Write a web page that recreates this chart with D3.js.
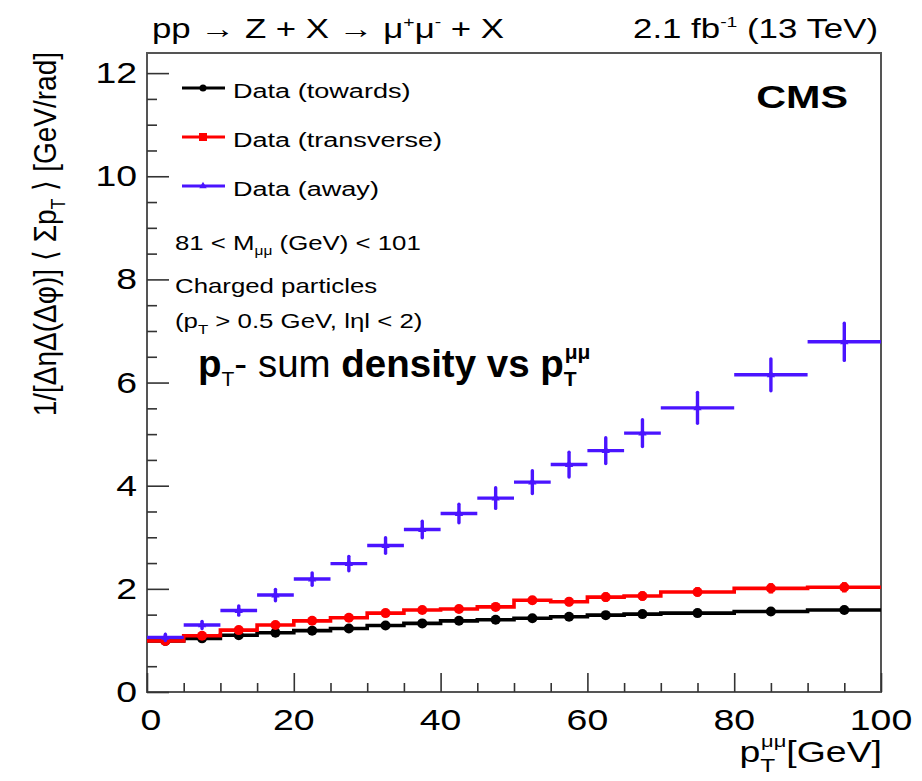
<!DOCTYPE html>
<html>
<head>
<meta charset="utf-8">
<script src="https://cdn.jsdelivr.net/npm/d3@7"></script>
<style>
body { margin: 0; background: #fff; }
svg { display: block; font-family: "Liberation Sans", Arial, sans-serif; }
</style>
</head>
<body>
<div id="chart"></div>
<script>
// bins in p_T^mumu [GeV]
var binEdges = [0, 5, 10, 15, 20, 25, 30, 35, 40, 45, 50, 55, 60, 65, 70, 80, 90, 100];
var towards = [0.99, 1.04, 1.10, 1.15, 1.19, 1.23, 1.29, 1.33, 1.38, 1.40, 1.43, 1.46, 1.49, 1.51, 1.53, 1.56, 1.59];
var towardsErr = [0.03, 0.03, 0.04, 0.04, 0.04, 0.05, 0.05, 0.05, 0.06, 0.06, 0.06, 0.07, 0.07, 0.07, 0.07, 0.08, 0.08];
var transverse = [0.99, 1.09, 1.20, 1.30, 1.38, 1.44, 1.53, 1.59, 1.61, 1.65, 1.78, 1.75, 1.84, 1.86, 1.94, 2.01, 2.03];
var transverseErr = [0.03, 0.04, 0.05, 0.05, 0.06, 0.06, 0.07, 0.07, 0.07, 0.08, 0.08, 0.09, 0.09, 0.09, 0.09, 0.10, 0.10];
var away = [1.06, 1.30, 1.58, 1.88, 2.19, 2.49, 2.84, 3.15, 3.46, 3.76, 4.07, 4.41, 4.68, 5.02, 5.51, 6.15, 6.79];
var awayErr = [0.06, 0.07, 0.09, 0.11, 0.12, 0.14, 0.15, 0.16, 0.18, 0.20, 0.22, 0.24, 0.25, 0.26, 0.30, 0.31, 0.36];
var xTicks = [0, 20, 40, 60, 80, 100];
var yTicks = [0, 2, 4, 6, 8, 10, 12];
var legendLabels = ['Data (towards)', 'Data (transverse)', 'Data (away)'];
var colors = ['#000000', '#ff0000', '#4a14ff'];

var W = 922, H = 781;
var margin = { top: 53, right: 41, bottom: 89, left: 147 };
var width = W - margin.left - margin.right;
var height = H - margin.top - margin.bottom;
var SX = 1.29; // the original plot is stretched horizontally

var svg = d3.select('#chart').append('svg')
    .attr('width', W)
    .attr('height', H);

var x = d3.scaleLinear().domain([0, 100]).range([0, width]);
var y = d3.scaleLinear().domain([0, 12.39]).range([height, 0]);

var g = svg.append('g')
    .attr('transform', 'translate(' + margin.left + ',' + margin.top + ')');

function stretched(parent, px, py, size, sx, anchor) {
    return parent.append('text')
        .attr('transform', 'translate(' + px + ',' + py + ') scale(' + sx + ',1)')
        .attr('font-size', size)
        .attr('text-anchor', anchor || 'start')
        .attr('fill', '#000');
}

// frame
g.append('rect')
    .attr('width', width)
    .attr('height', height)
    .attr('fill', 'none')
    .attr('stroke', '#555')
    .attr('stroke-width', 2);

// ticks (inward), labels drawn separately because of the stretch
var yMinor = d3.range(0, 12.01, 0.5).filter(function (v) { return v % 2 !== 0; });
var xMinor = d3.range(0, 100.1, 5).filter(function (v) { return v % 20 !== 0; });
function styleAxis(sel) {
    sel.select('.domain').remove();
    sel.selectAll('line').attr('stroke', '#333').attr('stroke-width', 1.6);
}
g.append('g').call(d3.axisLeft(y).tickValues(yTicks).tickSize(-22).tickFormat('')).call(styleAxis);
g.append('g').call(d3.axisLeft(y).tickValues(yMinor).tickSize(-10).tickFormat('')).call(styleAxis);
g.append('g').attr('transform', 'translate(0,' + height + ')')
    .call(d3.axisBottom(x).tickValues(xTicks).tickSize(-19).tickFormat('')).call(styleAxis);
g.append('g').attr('transform', 'translate(0,' + height + ')')
    .call(d3.axisBottom(x).tickValues(xMinor).tickSize(-9).tickFormat('')).call(styleAxis);

yTicks.forEach(function (v) {
    stretched(g, -10, y(v) + 10, 29, SX, 'end').text(v);
});
xTicks.forEach(function (v) {
    stretched(g, x(v) + (v === 0 ? 4 : 0), height + 38, 29, SX, 'middle').text(v);
});

// axis titles
var xt = stretched(g, width + 1, height + 70, 29, SX, 'end');
xt.append('tspan').text('p');
xt.append('tspan').attr('font-size', 19).attr('dy', 10).text('T');
xt.append('tspan').attr('font-size', 17).attr('dx', -11).attr('dy', -25).text('μμ');
xt.append('tspan').attr('dy', 15).text('[GeV]');

var yt = svg.append('text')
    .attr('transform', 'translate(56,52) scale(1.15,1) rotate(-90)')
    .attr('font-size', 28)
    .attr('text-anchor', 'end');
yt.append('tspan').text('1/[ΔηΔ(Δφ)] ⟨ Σp');
yt.append('tspan').attr('font-size', 18).attr('dy', 8).text('T');
yt.append('tspan').attr('dy', -8).text(' ⟩ [GeV/rad]');

// data
var series = [
    { vals: towards, errs: towardsErr, color: colors[0] },
    { vals: transverse, errs: transverseErr, color: colors[1] }
];
var stepLine = d3.line()
    .x(function (d) { return x(d[0]); })
    .y(function (d) { return y(d[1]); })
    .curve(d3.curveStepAfter);

series.forEach(function (s) {
    var pts = binEdges.map(function (e, i) { return [e, s.vals[Math.min(i, s.vals.length - 1)]]; });
    g.append('path')
        .datum(pts)
        .attr('d', stepLine)
        .attr('fill', 'none')
        .attr('stroke', s.color)
        .attr('stroke-width', 3.6);
    s.vals.forEach(function (v, i) {
        var xc = x((binEdges[i] + binEdges[i + 1]) / 2);
        g.append('line')
            .attr('x1', xc).attr('x2', xc)
            .attr('y1', y(v - s.errs[i])).attr('y2', y(v + s.errs[i]))
            .attr('stroke', s.color)
            .attr('stroke-width', 4.5);
        g.append('circle')
            .attr('cx', xc).attr('cy', y(v))
            .attr('r', 5)
            .attr('fill', s.color);
    });
});

away.forEach(function (v, i) {
    var xc = x((binEdges[i] + binEdges[i + 1]) / 2);
    g.append('line')
        .attr('x1', x(binEdges[i])).attr('x2', x(binEdges[i + 1]))
        .attr('y1', y(v)).attr('y2', y(v))
        .attr('stroke', colors[2])
        .attr('stroke-width', 3.4);
    g.append('line')
        .attr('x1', xc).attr('x2', xc)
        .attr('y1', y(v - awayErr[i])).attr('y2', y(v + awayErr[i]))
        .attr('stroke', colors[2])
        .attr('stroke-width', 3.4)
        .attr('stroke-linecap', 'round');
    g.append('path')
        .attr('d', d3.symbol(d3.symbolTriangle, 30)())
        .attr('transform', 'translate(' + xc + ',' + y(v) + ')')
        .attr('fill', colors[2]);
});

// legend
var legendY = [88, 137, 186];
legendLabels.forEach(function (label, i) {
    svg.append('line')
        .attr('x1', 182).attr('x2', 225)
        .attr('y1', legendY[i]).attr('y2', legendY[i])
        .attr('stroke', colors[i])
        .attr('stroke-width', 3);
    if (i === 0) {
        svg.append('circle').attr('cx', 203).attr('cy', legendY[i]).attr('r', 3.5).attr('fill', colors[i]);
    } else if (i === 1) {
        svg.append('rect').attr('x', 199).attr('y', legendY[i] - 4).attr('width', 8).attr('height', 8).attr('fill', colors[i]);
    } else {
        svg.append('path')
            .attr('d', d3.symbol(d3.symbolTriangle, 24)())
            .attr('transform', 'translate(203,' + legendY[i] + ')')
            .attr('fill', colors[i]);
    }
    stretched(svg, 233, legendY[i] + 10, 21, SX).text(label);
});

var t1 = stretched(svg, 175, 250, 20, SX);
t1.append('tspan').text('81 < M');
t1.append('tspan').attr('font-size', 12).attr('dy', 5).text('μμ');
t1.append('tspan').attr('dy', -5).text(' (GeV) < 101');
stretched(svg, 175, 293, 20, SX).text('Charged particles');
var t3 = stretched(svg, 175, 328, 20, SX);
t3.append('tspan').text('(p');
t3.append('tspan').attr('font-size', 13).attr('dy', 6).text('T');
t3.append('tspan').attr('dy', -6).text(' > 0.5 GeV, lηl < 2)');

stretched(svg, 848, 108, 32, SX, 'end')
    .attr('font-weight', 'bold')
    .text('CMS');

// titles above the frame
var tl = stretched(svg, 152, 38, 27, SX);
tl.append('tspan').text('pp → Z + X → μ');
tl.append('tspan').attr('font-size', 15).attr('dy', -11).text('+');
tl.append('tspan').attr('dy', 11).text('μ');
tl.append('tspan').attr('font-size', 15).attr('dy', -11).text('-');
tl.append('tspan').attr('dy', 11).text(' + X');

var tr = stretched(svg, 878, 38, 27, SX, 'end');
tr.append('tspan').text('2.1 fb');
tr.append('tspan').attr('font-size', 15).attr('dy', -11).text('-1');
tr.append('tspan').attr('dy', 11).text(' (13 TeV)');

// annotation
var an = svg.append('text')
    .attr('x', 198).attr('y', 377)
    .attr('font-size', 38.5)
    .attr('fill', '#000');
an.append('tspan').attr('font-weight', 'bold').text('p');
an.append('tspan').attr('font-size', 21).attr('dy', 9).text('T');
an.append('tspan').attr('dy', -9).text('- sum ');
an.append('tspan').attr('font-weight', 'bold').text('density vs p');
an.append('tspan').attr('font-weight', 'bold').attr('font-size', 21).attr('dy', 9).text('T');
an.append('tspan').attr('font-weight', 'bold').attr('font-size', 21).attr('dx', -12).attr('dy', -27).text('μμ');
</script>
</body>
</html>
